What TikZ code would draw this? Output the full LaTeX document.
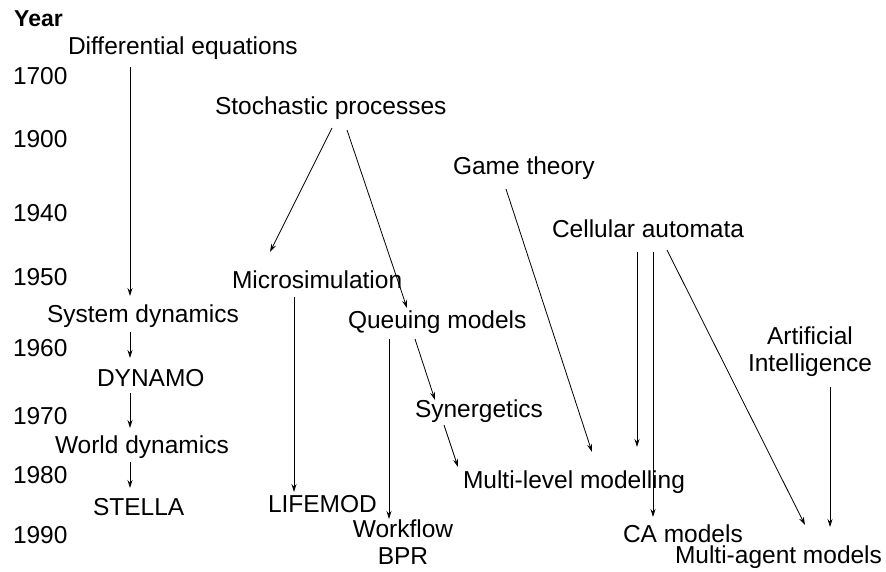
\documentclass[tikz,border=0pt]{standalone}
\usepackage{fontspec}
\setmainfont{Liberation Sans}
\usetikzlibrary{arrows.meta}
\begin{document}
\begin{tikzpicture}[x=1pt,y=-1pt,
  lbl/.style={inner sep=0pt,outer sep=0pt,anchor=base west,font=\fontsize{24.5}{27}\selectfont},
  lbl2/.style={inner sep=0pt,outer sep=0pt,anchor=center,align=center,font=\fontsize{24.5}{27}\selectfont},
  yr/.style={lbl},
  arr/.style={line width=0.8pt,-{Stealth[length=8pt,width=5pt]}}]
\useasboundingbox (0,0) rectangle (886,572);
% year axis
\node[inner sep=0pt,anchor=base west,font=\fontsize{23}{27}\selectfont\bfseries] (year) at (14,27) {Year};
\node[yr] (y1700) at (13,85) {1700};
\node[yr] (y1900) at (13,148) {1900};
\node[yr] (y1940) at (13,222) {1940};
\node[yr] (y1950) at (13,285) {1950};
\node[yr] (y1960) at (13,356) {1960};
\node[yr] (y1970) at (13,424) {1970};
\node[yr] (y1980) at (13,483) {1980};
\node[yr] (y1990) at (13,543) {1990};
% topics
\node[lbl] (de) at (68,55) {Differential equations};
\node[lbl] (sp) at (215,115) {Stochastic processes};
\node[lbl] (gt) at (453,175) {Game theory};
\node[lbl] (ca) at (552,237) {Cellular automata};
\node[lbl] (ms) at (232,288) {Microsimulation};
\node[lbl] (sd) at (47,322) {System dynamics};
\node[lbl] (qm) at (348,328) {Queuing models};
\node[lbl2] (ai) at (810,352) {Artificial\\Intelligence};
\node[lbl] (dyn) at (97,386) {DYNAMO};
\node[lbl] (sy) at (415,417) {Synergetics};
\node[lbl] (wd) at (55,453) {World dynamics};
\node[lbl] (ml) at (463,488) {Multi-level modelling};
\node[lbl] (lm) at (268,512) {LIFEMOD};
\node[lbl] (st) at (93,515) {STELLA};
\node[lbl2] (wf) at (403,542.5) {Workflow\\BPR};
\node[lbl] (cam) at (623,542) {CA models};
\node[lbl] (mam) at (675,563) {Multi-agent models};
% connectors
\draw[arr] ([shift={(62,12)}]de.base west) -- ([shift={(83,-26)}]sd.base west);
\draw[arr] ([shift={(83,10)}]sd.base west) -- ([shift={(33,-28)}]dyn.base west);
\draw[arr] ([shift={(33,7)}]dyn.base west) -- ([shift={(75,-25)}]wd.base west);
\draw[arr] ([shift={(75,9)}]wd.base west) -- ([shift={(37,-27)}]st.base west);
\draw[arr] ([shift={(117,13)}]sp.base west) -- ([shift={(38,-36)}]ms.base west);
\draw[arr] ([shift={(132,15)}]sp.base west) -- ([shift={(59,-20)}]qm.base west);
\draw[arr] ([shift={(62,9)}]ms.base west) -- ([shift={(26,-20)}]lm.base west);
\draw[arr] ([shift={(41,11)}]qm.base west) -- ([shift={(-14,-23.5)}]wf.center);
\draw[arr] ([shift={(67,11)}]qm.base west) -- ([shift={(20,-17)}]sy.base west);
\draw[arr] ([shift={(29,8)}]sy.base west) -- ([shift={(-5,-21)}]ml.base west);
\draw[arr] ([shift={(53,14)}]gt.base west) -- ([shift={(129,-36)}]ml.base west);
\draw[arr] ([shift={(85,15)}]ca.base west) -- ([shift={(174,-41)}]ml.base west);
\draw[arr] ([shift={(101,15)}]ca.base west) -- ([shift={(30,-25)}]cam.base west);
\draw[arr] ([shift={(115,13)}]ca.base west) -- ([shift={(130,-38)}]mam.base west);
\draw[arr] ([shift={(20,35)}]ai.center) -- ([shift={(155,-36)}]mam.base west);
\end{tikzpicture}
\end{document}
